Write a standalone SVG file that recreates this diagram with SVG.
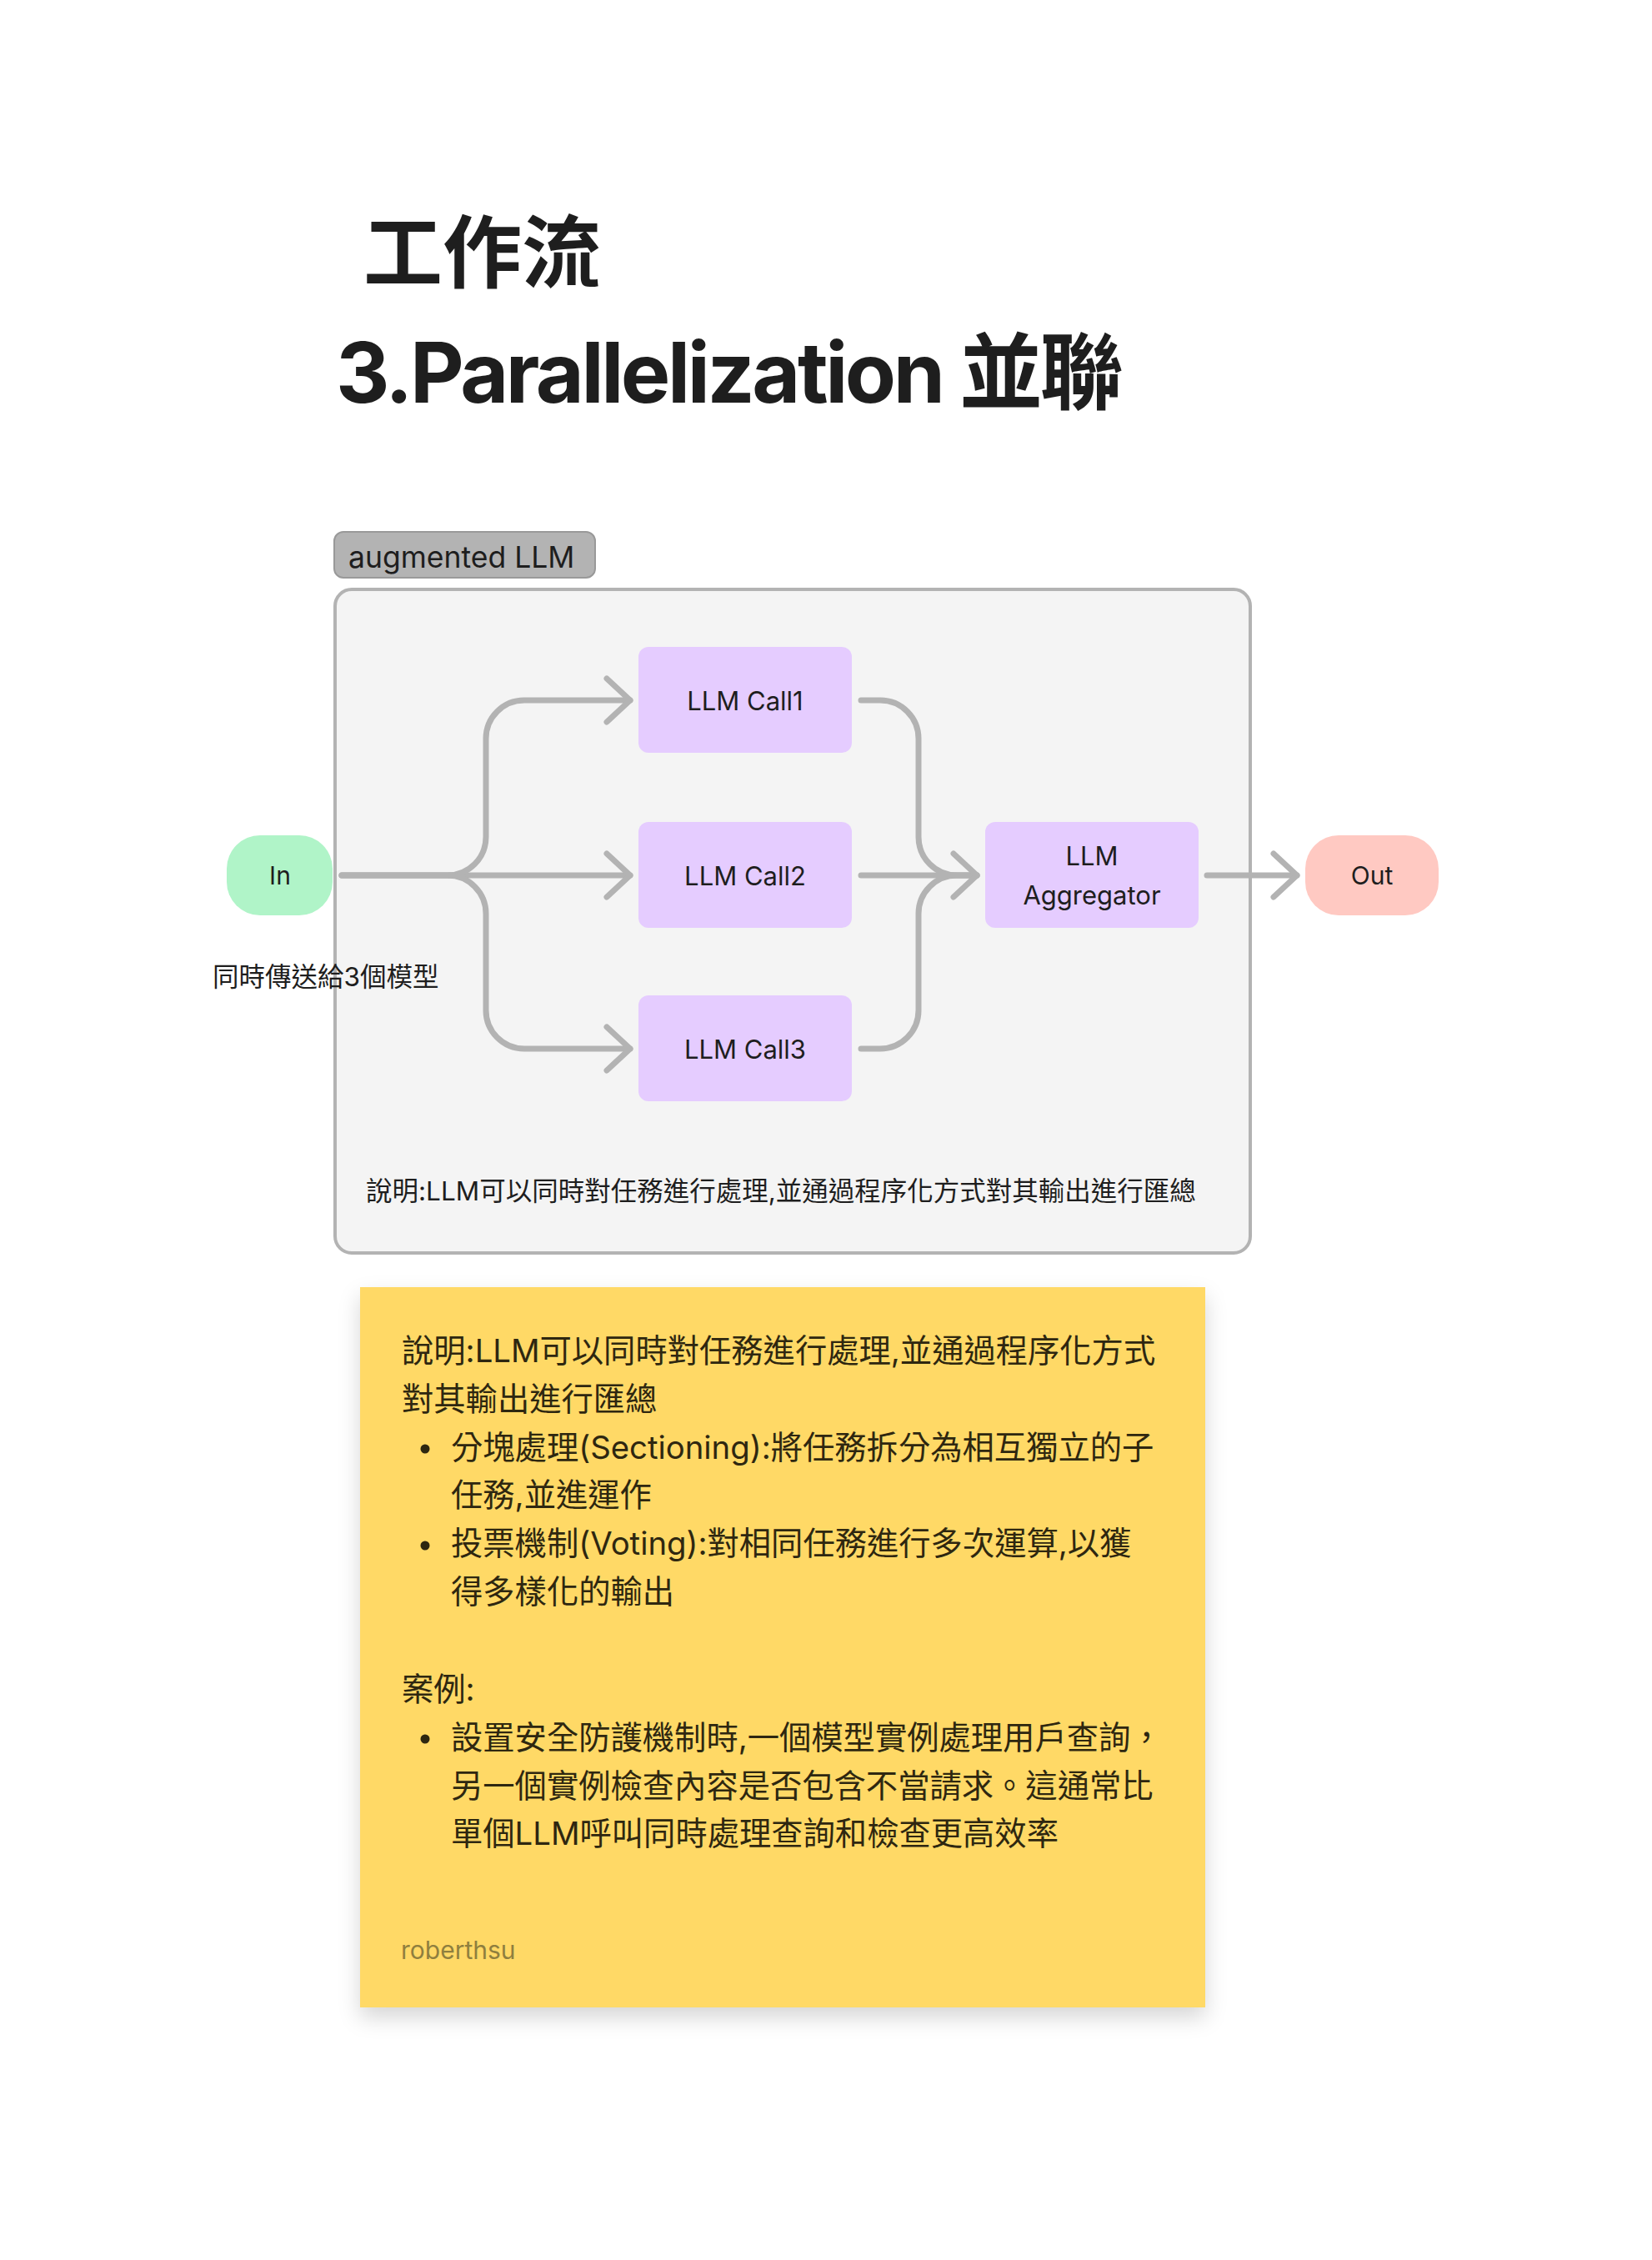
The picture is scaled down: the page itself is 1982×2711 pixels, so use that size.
<svg xmlns="http://www.w3.org/2000/svg" width="1982" height="2711" viewBox="0 0 1982 2711">
<style>
text{font-family:Inter,"Noto Sans CJK TC","Noto Sans",sans-serif;fill:#1e1e1e}
.title{font-size:100px;font-weight:700}
.node{font-size:31px;text-anchor:middle}
.lbl{font-size:31.5px}
.note{font-size:38.3px;fill:#2e2710}
.conn{fill:none;stroke:#b3b3b3;stroke-width:7;stroke-linecap:round;stroke-linejoin:round}
.llm{fill:#e5ccff}
</style>
<defs>
<marker id="arr" markerUnits="userSpaceOnUse" viewBox="-34 -32 40 64" markerWidth="40" markerHeight="64" refX="0" refY="0" orient="auto">
<path d="M -28 -26 L 0 0 L -28 26" fill="none" stroke="#b3b3b3" stroke-width="7" stroke-linecap="round" stroke-linejoin="round"/>
</marker>
<filter id="sh" x="-10%" y="-10%" width="120%" height="125%">
<feDropShadow dx="0" dy="12" stdDeviation="13" flood-color="#000" flood-opacity="0.16"/>
</filter>
</defs>
<rect width="1982" height="2711" fill="#ffffff"/>
<g id="title">
<text class="title" x="436" y="338" style="font-size:95px">工作流</text>
<text class="title" x="403" y="483" style="letter-spacing:-3.4px">3.Parallelization 並聯</text>
</g>
<g id="container">
<rect x="402" y="707" width="1098" height="796" rx="20" fill="#f4f4f4" stroke="#b3b3b3" stroke-width="4"/>
<rect x="401" y="638" width="313" height="55" rx="11" fill="#b3b3b3" stroke="#999999" stroke-width="2"/>
<text x="418" y="681" style="font-size:35.5px">augmented LLM</text>
<text class="lbl" x="439" y="1440">說明:LLM可以同時對任務進行處理,並通過程序化方式對其輸出進行匯總</text>
</g>
<g id="connectors">
<path class="conn" d="M 410 1050 H 756" marker-end="url(#arr)"/>
<path class="conn" d="M 410 1050 H 537 A 46 46 0 0 0 583 1004 V 886 A 46 46 0 0 1 629 840 H 756" marker-end="url(#arr)"/>
<path class="conn" d="M 410 1050 H 537 A 46 46 0 0 1 583 1096 V 1212 A 46 46 0 0 0 629 1258 H 756" marker-end="url(#arr)"/>
<path class="conn" d="M 1033 840 H 1056 A 46 46 0 0 1 1102 886 V 1004 A 46 46 0 0 0 1148 1050 H 1172"/>
<path class="conn" d="M 1033 1258 H 1056 A 46 46 0 0 0 1102 1212 V 1096 A 46 46 0 0 1 1148 1050 H 1172"/>
<path class="conn" d="M 1033 1050 H 1172" marker-end="url(#arr)"/>
<path class="conn" d="M 1448 1050 H 1556" marker-end="url(#arr)"/>
</g>
<g id="in">
<rect x="272" y="1002" width="127" height="96" rx="40" fill="#b0f4c8"/>
<text class="node" x="336" y="1061" style="font-size:30px">In</text>
</g>
<text id="in-label" class="lbl" x="255" y="1183">同時傳送給3個模型</text>
<g id="call1">
<rect class="llm" x="766" y="776" width="256" height="127" rx="12"/>
<text class="node" x="894" y="852">LLM Call1</text>
</g>
<g id="call2">
<rect class="llm" x="766" y="986" width="256" height="127" rx="12"/>
<text class="node" x="894" y="1062">LLM Call2</text>
</g>
<g id="call3">
<rect class="llm" x="766" y="1194" width="256" height="127" rx="12"/>
<text class="node" x="894" y="1270">LLM Call3</text>
</g>
<g id="aggregator">
<rect class="llm" x="1182" y="986" width="256" height="127" rx="12"/>
<text class="node" x="1310" y="1038">LLM</text>
<text class="node" x="1310" y="1085">Aggregator</text>
</g>
<g id="out">
<rect x="1566" y="1002" width="160" height="96" rx="40" fill="#ffc9c2"/>
<text class="node" x="1646" y="1061" style="font-size:30px">Out</text>
</g>
<g id="note">
<rect x="432" y="1544" width="1014" height="864" fill="#ffd966" filter="url(#sh)"/>
<text class="note" x="482" y="1634">說明:LLM可以同時對任務進行處理,並通過程序化方式</text>
<text class="note" x="482" y="1692">對其輸出進行匯總</text>
<circle cx="510" cy="1738" r="5.5" fill="#2e2710"/>
<text class="note" x="541" y="1750">分塊處理(Sectioning):將任務拆分為相互獨立的子</text>
<text class="note" x="541" y="1807">任務,並進運作</text>
<circle cx="510" cy="1854" r="5.5" fill="#2e2710"/>
<text class="note" x="541" y="1865">投票機制(Voting):對相同任務進行多次運算,以獲</text>
<text class="note" x="541" y="1923">得多樣化的輸出</text>
<text class="note" x="482" y="2040">案例:</text>
<circle cx="510" cy="2086" r="5.5" fill="#2e2710"/>
<text class="note" x="541" y="2098">設置安全防護機制時,一個模型實例處理用戶查詢，</text>
<text class="note" x="541" y="2156">另一個實例檢查內容是否包含不當請求。這通常比</text>
<text class="note" x="541" y="2213">單個LLM呼叫同時處理查詢和檢查更高效率</text>
<text x="481" y="2350" style="font-size:30px;fill:#8f7f3e">roberthsu</text>
</g>
</svg>
